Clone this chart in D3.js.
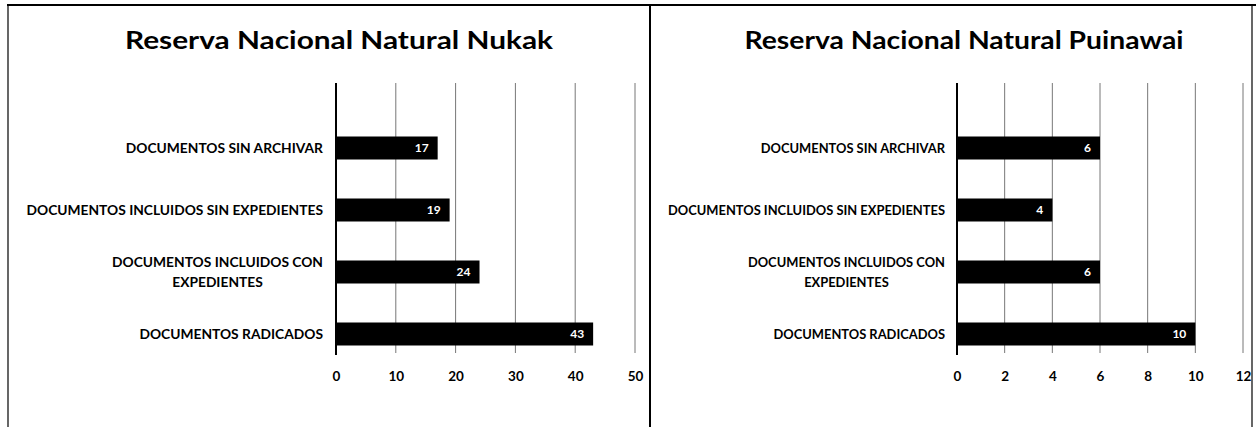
<!DOCTYPE html>
<html>
<head>
<meta charset="utf-8">
<script src="https://cdn.jsdelivr.net/npm/d3@7"></script>
<style>
  html, body { margin: 0; padding: 0; background: #fff; }
  svg { display: block; }
  text { font-family: Lato, "Open Sans", sans-serif; font-weight: bold; fill: #000; }
</style>
</head>
<body>
<svg id="chart" width="1256" height="427"></svg>
<script>
// ---- data ----
const categories = [
  "DOCUMENTOS SIN ARCHIVAR",
  "DOCUMENTOS INCLUIDOS SIN EXPEDIENTES",
  "DOCUMENTOS INCLUIDOS CON\nEXPEDIENTES",
  "DOCUMENTOS RADICADOS"
];
const nukakTitle = "Reserva Nacional Natural Nukak";
const nukakValues = [17, 19, 24, 43];
const nukakTicks = [0, 10, 20, 30, 40, 50];

const puinawaiTitle = "Reserva Nacional Natural Puinawai";
const puinawaiValues = [6, 4, 6, 10];
const puinawaiTicks = [0, 2, 4, 6, 8, 10, 12];

// ---- layout ----
const svg = d3.select("#chart");
const plotTop = 83, plotBottom = 353;

const panels = [
  { title: nukakTitle, values: nukakValues, ticks: nukakTicks,
    x0: 336, x1: 635, labelRight: 323, titleX: 339, titleW: 428, labelSize: 13.8 },
  { title: puinawaiTitle, values: puinawaiValues, ticks: puinawaiTicks,
    x0: 957, x1: 1243, labelRight: 945, titleX: 964, titleW: 439, labelSize: 12.9 }
];

// frame lines
const frame = svg.append("g").attr("stroke", "#000").attr("fill", "none");
frame.append("line").attr("x1", 7).attr("x2", 1256).attr("y1", 5).attr("y2", 5).attr("stroke-width", 2);
frame.append("line").attr("x1", 8).attr("x2", 8).attr("y1", 5).attr("y2", 427).attr("stroke-width", 1.2);
frame.append("line").attr("x1", 650).attr("x2", 650).attr("y1", 5).attr("y2", 427).attr("stroke-width", 2);
frame.append("line").attr("x1", 1252).attr("x2", 1252).attr("y1", 5).attr("y2", 427).attr("stroke-width", 1.2);

panels.forEach(p => {
  const g = svg.append("g");
  const x = d3.scaleLinear()
    .domain([p.ticks[0], p.ticks[p.ticks.length - 1]])
    .range([p.x0, p.x1]);
  const y = d3.scaleBand()
    .domain(categories)
    .range([136.5, 345.5])
    .paddingInner(0.629)
    .paddingOuter(0);

  // title
  g.append("text")
    .attr("x", p.titleX).attr("y", 49)
    .attr("text-anchor", "middle")
    .attr("textLength", p.titleW)
    .attr("lengthAdjust", "spacingAndGlyphs")
    .style("font-size", "24px")
    .text(p.title);

  // gridlines
  g.append("g").selectAll("line")
    .data(p.ticks.slice(1))
    .join("line")
    .attr("x1", d => x(d)).attr("x2", d => x(d))
    .attr("y1", plotTop).attr("y2", plotBottom)
    .attr("stroke", "#777").attr("stroke-width", 1);

  // bars
  g.append("g").selectAll("rect")
    .data(p.values)
    .join("rect")
    .attr("x", x(0))
    .attr("y", (d, i) => y(categories[i]))
    .attr("width", d => x(d) - x(0))
    .attr("height", y.bandwidth())
    .attr("fill", "#000");

  // value labels
  g.append("g").selectAll("text")
    .data(p.values)
    .join("text")
    .attr("x", d => x(d) - 9)
    .attr("y", (d, i) => y(categories[i]) + y.bandwidth() / 2)
    .attr("dy", "0.35em")
    .attr("text-anchor", "end")
    .style("font-size", "12px")
    .style("fill", "#fff")
    .text(d => d);

  // category labels
  const lab = g.append("g").selectAll("text")
    .data(categories)
    .join("text")
    .attr("x", p.labelRight)
    .attr("y", d => y(d) + y.bandwidth() / 2)
    .attr("text-anchor", "end")
    .style("font-size", p.labelSize + "px");
  lab.each(function(d) {
    const lines = d.split("\n");
    const t = d3.select(this);
    const cx = p.labelRight, lh = 20;
    lines.forEach((ln, i) => {
      t.append("tspan")
        .attr("x", cx)
        .attr("dy", i === 0 ? (0.35 * p.labelSize - (lines.length - 1) * lh / 2) + "px" : lh + "px")
        .attr("text-anchor", i === 0 ? "end" : "middle")
        .text(ln);
    });
  });
  // center the continuation lines under the first line
  lab.each(function() {
    const tsp = d3.select(this).selectAll("tspan");
    if (tsp.size() > 1) {
      const first = tsp.nodes()[0];
      const w = first.getComputedTextLength();
      tsp.filter((d, i) => i > 0).attr("x", p.labelRight - w / 2);
    }
  });

  // category axis line
  g.append("line")
    .attr("x1", x(0)).attr("x2", x(0))
    .attr("y1", plotTop).attr("y2", plotBottom + 2)
    .attr("stroke", "#000").attr("stroke-width", 2);

  // value axis tick labels
  const ax = g.append("g")
    .attr("transform", `translate(0,${plotBottom})`)
    .call(d3.axisBottom(x).tickValues(p.ticks).tickSize(0).tickPadding(18).tickFormat(d3.format("d")));
  ax.select(".domain").remove();
  ax.selectAll("text")
    .style("font-family", "Lato, sans-serif")
    .style("font-weight", "bold")
    .style("font-size", "13.5px")
    .attr("fill", "#000");
});
</script>
</body>
</html>
